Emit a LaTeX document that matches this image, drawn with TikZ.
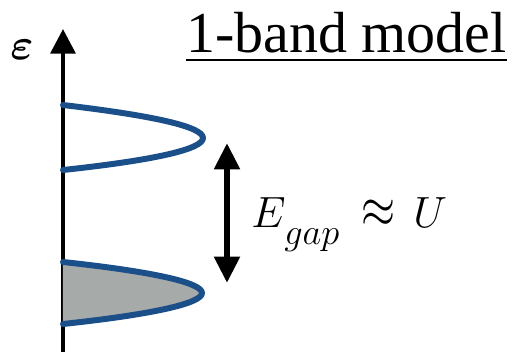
\documentclass[tikz,border=0pt]{standalone}
\usepackage{fontspec}
\setmainfont{Liberation Serif}
\usepackage{graphicx}
\usepackage{tikz}
\usetikzlibrary{arrows.meta, positioning}
\definecolor{bandblue}{HTML}{1B4F8A}
\definecolor{bandgray}{HTML}{A6AAA9}

\begin{document}
\begin{tikzpicture}[x=0.02cm, y=-0.02cm,
    band/.style={draw=bandblue, line width=3.4pt, line cap=round, line join=round},
    bigtip/.style={-{Triangle[length=14pt, width=14pt]}},
    eqtext/.style={anchor=base west, inner sep=0pt, font=\fontsize{32}{36}\selectfont}]
    \useasboundingbox (0,0) rectangle (512,352);

    % Energy axis
    \coordinate (axbot) at (63,352);
    \coordinate (axtop) at (63,29);
    \draw[bigtip, line width=2.5pt] (axbot) -- (axtop);
    \node[font=\fontsize{31}{36}\selectfont\boldmath, anchor=base, inner sep=0pt] (eps) at (22,59) {$\varepsilon$};

    % Upper band (empty)
    \draw[band] (63,105) .. controls (156,116) and (203,127) .. (203,138)
        .. controls (203,149) and (156,160) .. (63,170);

    % Lower band (filled)
    \fill[bandgray] (63,262) .. controls (156,272) and (202,283) .. (202,293)
        .. controls (202,303) and (156,314) .. (63,324) -- cycle;
    \draw[band] (63,262) .. controls (156,272) and (202,283) .. (202,293)
        .. controls (202,303) and (156,314) .. (63,324);

    % Gap
    \coordinate (gaptop) at (227,143);
    \coordinate (gapbot) at (227,283);
    \draw[{Triangle[length=15pt, width=14pt]}-{Triangle[length=15pt, width=14pt]}, line width=3.6pt] (gaptop) -- (gapbot);
    \node[eqtext] (egapE) at (251,227) {$E$};
    \node[eqtext, font=\fontsize{22}{26}\selectfont] (egapsub) at (284,244) {$gap$};
    \node[anchor=base west, inner sep=0pt] (egapapprox) at (361,227)
        {\scalebox{1}[1.3]{\fontsize{23}{28}\selectfont$\approx$}};
    \node[eqtext] (egapU) at (413,227) {$U$};

    % Title
    \node[anchor=base west, inner sep=0pt, font=\fontsize{33}{40}\selectfont] (title) at (186,52) {1-band model};
    \draw[line width=1.5pt] ([yshift=-4.5pt]title.base west) -- ([yshift=-4.5pt]title.base east);
\end{tikzpicture}
\end{document}
